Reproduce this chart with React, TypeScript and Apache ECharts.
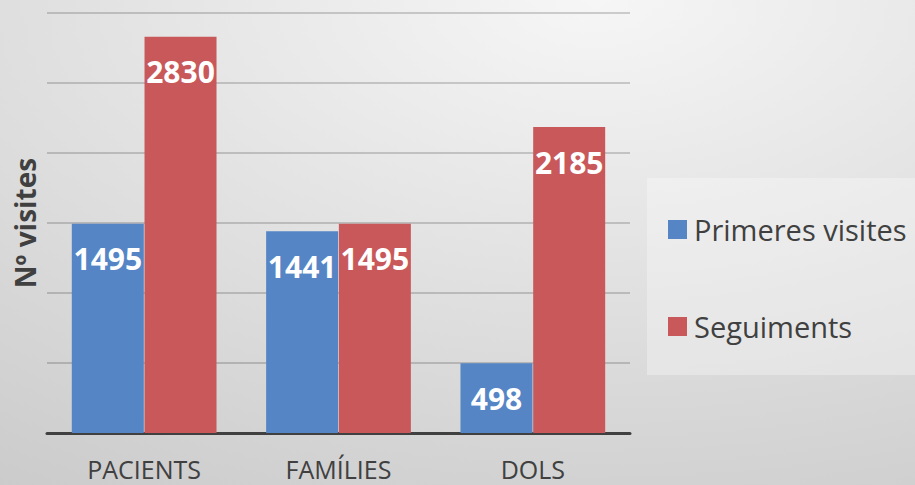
import React, { useEffect, useRef } from "react";
import * as echarts from "echarts";

const categories = ["PACIENTS", "FAMÍLIES", "DOLS"];
const seriesNames = ["Primeres visites", "Seguiments"];
const primeresVisites = [1495, 1441, 498];
const seguiments = [2830, 1495, 2185];
const yAxisName = "Nº visites";

export default function App() {
  const ref = useRef<HTMLDivElement>(null);
  useEffect(() => {
    if (!ref.current) return;
    const chart = echarts.init(ref.current, null, { renderer: "svg" });
    const font = "'Open Sans', 'Noto Sans', sans-serif";
    const labelCfg = {
      show: true,
      position: "insideTop",
      distance: 20,
      color: "#ffffff",
      fontSize: 30,
      fontWeight: "bold",
      fontFamily: font,
    };
    chart.setOption({
      animation: false,
      backgroundColor: {
        type: "radial",
        x: 0.65,
        y: 0,
        r: 1.25,
        colorStops: [
          { offset: 0, color: "#f6f6f6" },
          { offset: 1, color: "#c9c9c9" },
        ],
      },
      textStyle: { fontFamily: font },
      graphic: [
        {
          type: "rect",
          z: 0,
          shape: { x: 647, y: 178, width: 280, height: 197 },
          style: { fill: "rgba(255,255,255,0.3)" },
          silent: true,
        },
      ],
      legend: {
        orient: "vertical",
        left: 663,
        top: 210,
        itemWidth: 19,
        itemHeight: 19,
        itemGap: 68,
        icon: "rect",
        textStyle: {
          fontSize: 29,
          color: "#404040",
          fontFamily: font,
          padding: [0, 0, 0, 2],
        },
        data: seriesNames,
      },
      grid: { left: 47, right: 285, top: 13, bottom: 52, containLabel: false },
      xAxis: {
        type: "category",
        data: categories,
        axisLine: { lineStyle: { color: "#404040", width: 3 } },
        axisTick: { show: false },
        axisLabel: {
          fontSize: 25,
          color: "#404040",
          margin: 23,
          fontFamily: font,
        },
      },
      yAxis: {
        type: "value",
        min: 0,
        max: 3000,
        interval: 500,
        name: yAxisName,
        nameLocation: "middle",
        nameRotate: 90,
        nameGap: 8,
        nameTextStyle: {
          fontSize: 28,
          fontWeight: "bold",
          color: "#404040",
          fontFamily: font,
        },
        axisLabel: { show: false },
        axisLine: { show: false },
        axisTick: { show: false },
        splitLine: { lineStyle: { color: "rgba(0,0,0,0.17)", width: 2 } },
      },
      series: [
        {
          name: seriesNames[0],
          type: "bar",
          data: primeresVisites,
          barWidth: 72,
          barGap: "1%",
          itemStyle: { color: "#5585c5" },
          label: labelCfg,
        },
        {
          name: seriesNames[1],
          type: "bar",
          data: seguiments,
          barWidth: 72,
          itemStyle: { color: "#c9585a" },
          label: labelCfg,
        },
      ],
    });
    return () => chart.dispose();
  }, []);
  return (
    <div
      ref={ref}
      style={{ position: "absolute", left: 0, top: 0, width: 915, height: 485 }}
    />
  );
}
